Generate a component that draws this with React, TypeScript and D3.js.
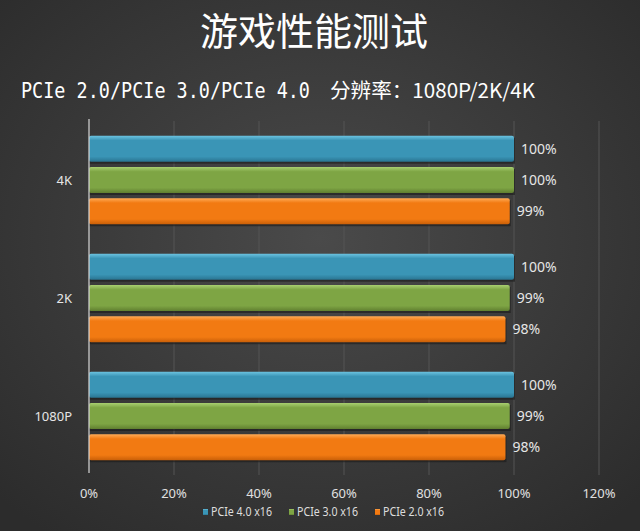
import * as d3 from 'd3';

const categories = ['4K', '2K', '1080P'];
const seriesNames = ['PCIe 4.0 x16', 'PCIe 3.0 x16', 'PCIe 2.0 x16'];
const pcie4 = [100, 100, 100];
const pcie3 = [100, 99, 99];
const pcie2 = [99, 98, 98];
const xTicks = [0, 20, 40, 60, 80, 100, 120];

const seriesValues = [pcie4, pcie3, pcie2];
const colors = [
  { top: '#6cc3e0', mid: '#3a95b6', bot: '#2a7592' },
  { top: '#a8cf70', mid: '#7ea544', bot: '#607f30' },
  { top: '#ffaa55', mid: '#f27a12', bot: '#c95f08' },
];

export default function App() {
  const width = 640;
  const height = 531;
  const margin = { top: 121, right: 41, bottom: 56, left: 89 };

  const x = d3
    .scaleLinear()
    .domain([0, 120])
    .range([margin.left, width - margin.right]);

  const y = d3
    .scaleBand()
    .domain(categories)
    .range([margin.top, height - margin.bottom])
    .paddingInner(0.25)
    .paddingOuter(0.125);

  const inner = d3
    .scaleBand()
    .domain(seriesNames)
    .range([0, y.bandwidth()])
    .paddingInner(0.17);

  // legend positions (x of swatch)
  const legendX = [203, 289, 375];

  return (
    <svg
      width={width}
      height={height}
      style={{ position: 'absolute', left: 0, top: 0 }}
      fontFamily="'Noto Sans', 'Noto Sans CJK SC', sans-serif"
    >
      <defs>
        <radialGradient id="bg" cx="50%" cy="45%" r="70%">
          <stop offset="0%" stopColor="#4a4a4a" />
          <stop offset="100%" stopColor="#2c2c2c" />
        </radialGradient>
        {colors.map((c, i) => (
          <linearGradient key={i} id={'bar' + i} x1="0" y1="0" x2="0" y2="1">
            <stop offset="0%" stopColor={c.top} />
            <stop offset="18%" stopColor={c.mid} />
            <stop offset="80%" stopColor={c.mid} />
            <stop offset="100%" stopColor={c.bot} />
          </linearGradient>
        ))}
      </defs>
      <rect width={width} height={height} fill="url(#bg)" />

      <text
        x={314}
        y={45}
        textAnchor="middle"
        fill="#ffffff"
        fontSize={38}
        fontFamily="'Noto Sans CJK SC', sans-serif"
      >
        游戏性能测试
      </text>
      <text
        x={21}
        y={98}
        fill="#ffffff"
        fontSize={21}
        textLength={289}
        lengthAdjust="spacingAndGlyphs"
        fontFamily="'DejaVu Sans Mono', monospace"
      >
        PCIe 2.0/PCIe 3.0/PCIe 4.0
      </text>
      <text
        x={330}
        y={98}
        fill="#ffffff"
        fontSize={20}
        textLength={205}
        lengthAdjust="spacingAndGlyphs"
        fontFamily="'Noto Sans CJK SC', sans-serif"
      >
        分辨率：1080P/2K/4K
      </text>

      {/* gridlines */}
      {xTicks.slice(1).map((t) => (
        <line
          key={t}
          x1={x(t)}
          x2={x(t)}
          y1={margin.top}
          y2={height - margin.bottom}
          stroke="#555555"
          strokeWidth={1}
        />
      ))}

      {/* bars */}
      {categories.map((cat, ci) => (
        <g key={cat}>
          {seriesNames.map((s, si) => {
            const v = seriesValues[si][ci];
            const by = y(cat)! + inner(s)!;
            const bh = inner.bandwidth();
            return (
              <g key={s}>
                <rect
                  x={x(0)}
                  y={by + 2}
                  width={x(v) - x(0) + 1}
                  height={bh}
                  fill="#1a1a1a"
                  opacity={0.6}
                />
                <rect
                  x={x(0)}
                  y={by}
                  width={x(v) - x(0)}
                  height={bh}
                  rx={2}
                  fill={`url(#bar${si})`}
                />
                <text
                  x={x(v) + 7}
                  y={by + bh / 2 + 5}
                  fill="#e6e6e6"
                  fontSize={14}
                >
                  {v}%
                </text>
              </g>
            );
          })}
          <text
            x={72}
            y={y(cat)! + y.bandwidth() / 2 + 5}
            textAnchor="end"
            fill="#e6e6e6"
            fontSize={13}
          >
            {cat}
          </text>
        </g>
      ))}

      {/* axis line */}
      <line
        x1={x(0)}
        x2={x(0)}
        y1={margin.top - 2}
        y2={height - margin.bottom - 2}
        stroke="#d8d8d8"
        strokeWidth={1.2}
      />

      {xTicks.map((t) => (
        <text
          key={t}
          x={x(t)}
          y={498}
          textAnchor="middle"
          fill="#e0e0e0"
          fontSize={13}
        >
          {t}%
        </text>
      ))}

      {/* legend */}
      {seriesNames.map((s, i) => (
        <g key={s}>
          <rect
            x={legendX[i]}
            y={509}
            width={5}
            height={6}
            fill={`url(#bar${i})`}
          />
          <text
            x={legendX[i] + 8}
            y={515.5}
            fill="#dddddd"
            fontSize={12}
            textLength={61}
            lengthAdjust="spacingAndGlyphs"
          >
            {s}
          </text>
        </g>
      ))}
    </svg>
  );
}
